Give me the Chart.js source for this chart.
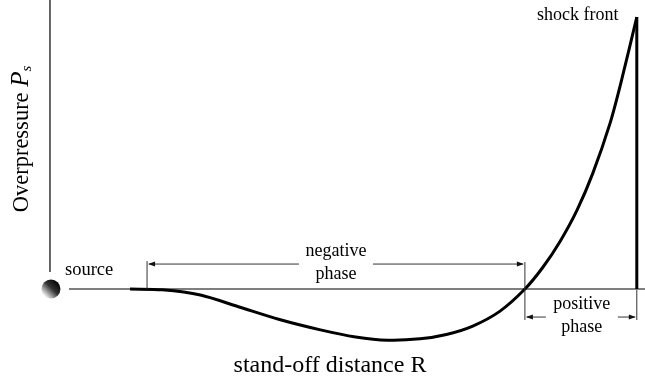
<!DOCTYPE html>
<html lang="en">
<head>
  <meta charset="UTF-8" />
  <title>Blast wave overpressure</title>
  <script src="https://cdn.jsdelivr.net/npm/chart.js"></script>
  <style>
    body {
      margin: 0;
      background: white;
    }
    #wrap {
      width: 645px;
      height: 381px;
    }
  </style>
</head>
<body>
  <div id="wrap"><canvas id="blastChart" width="645" height="381"></canvas></div>

  <script>
    // stand-off distance (source = 0, shock front = 10) and overpressure (peak = 1)
    const distance = [1.35, 1.9, 2.55, 3.2, 3.9, 4.6, 5.2, 5.75, 6.3, 6.75, 7.2, 7.66, 8.09, 8.4, 8.69, 8.98, 9.25, 9.54, 9.74, 10];
    const overpressure = [0, -0.003, -0.022, -0.065, -0.112, -0.15, -0.176, -0.188, -0.183, -0.167, -0.136, -0.082, 0, 0.081, 0.175, 0.29, 0.426, 0.607, 0.768, 1];
    const shockDistance = [10, 10];
    const shockPressure = [1, 0];
    const phaseEdges = [1.64, 8.09, 10];

    const toPoints = (xs, ys) => xs.map((x, i) => ({ x: x, y: ys[i] }));
    const serif = "'Liberation Serif', 'Times New Roman', serif";

    function arrowHead(ctx, x, y, dir) {
      ctx.beginPath();
      ctx.moveTo(x, y);
      ctx.lineTo(x - dir * 7, y - 2.5);
      ctx.lineTo(x - dir * 7, y + 2.5);
      ctx.closePath();
      ctx.fill();
    }

    function line(ctx, x1, y1, x2, y2) {
      ctx.beginPath();
      ctx.moveTo(x1, y1);
      ctx.lineTo(x2, y2);
      ctx.stroke();
    }

    const diagramPlugin = {
      id: "diagram",
      beforeDatasetsDraw(chart) {
        const ctx = chart.ctx;
        const xs = chart.scales.x;
        const ys = chart.scales.y;
        const y0 = ys.getPixelForValue(0);
        const xSrc = xs.getPixelForValue(0);
        ctx.save();
        // baseline
        ctx.strokeStyle = "#555";
        ctx.lineWidth = 1.5;
        line(ctx, xSrc + 18, y0, chart.width, y0);
        // vertical axis
        ctx.strokeStyle = "#000";
        ctx.lineWidth = 1.2;
        line(ctx, xSrc - 1, 0, xSrc - 1, y0 - 17);
        // source ball
        const g = ctx.createLinearGradient(xSrc - 7, y0 + 7, xSrc + 7, y0 - 7);
        g.addColorStop(0, "#ffffff");
        g.addColorStop(0.55, "#333333");
        g.addColorStop(1, "#000000");
        ctx.fillStyle = g;
        ctx.beginPath();
        ctx.arc(xSrc, y0, 9.5, 0, Math.PI * 2);
        ctx.fill();
        ctx.restore();
      },
      afterDraw(chart) {
        const ctx = chart.ctx;
        const xs = chart.scales.x;
        const ys = chart.scales.y;
        const px = v => xs.getPixelForValue(v);
        const py = v => ys.getPixelForValue(v);
        const xa = px(phaseEdges[0]);
        const xb = px(phaseEdges[1]);
        const xc = px(phaseEdges[2]);
        const y0 = py(0);

        ctx.save();
        ctx.strokeStyle = "#333";
        ctx.fillStyle = "#111";
        ctx.lineWidth = 1;

        // phase boundary ticks
        line(ctx, xa, y0 - 28, xa, y0);
        line(ctx, xb, y0 - 27, xb, y0 + 31);
        line(ctx, xc, y0 + 1, xc, y0 + 31);

        // negative phase arrow
        const yn = y0 - 25;
        const midN = (xa + xb) / 2;
        line(ctx, xa + 2, yn, midN - 37, yn);
        line(ctx, midN + 37, yn, xb - 2, yn);
        arrowHead(ctx, xa + 1, yn, -1);
        arrowHead(ctx, xb - 1, yn, 1);

        // positive phase arrow
        const yp = y0 + 28;
        const midP = (xb + xc) / 2;
        line(ctx, xb + 2, yp, midP - 35, yp);
        line(ctx, midP + 37, yp, xc - 2, yp);
        arrowHead(ctx, xb + 1, yp, -1);
        arrowHead(ctx, xc - 1, yp, 1);

        // texts
        ctx.fillStyle = "#000";
        ctx.textAlign = "center";
        ctx.textBaseline = "middle";
        ctx.font = "18px " + serif;
        ctx.fillText("negative", midN, yn - 13);
        ctx.fillText("phase", midN, yn + 10);
        ctx.fillText("positive", midP + 1, yp - 13);
        ctx.fillText("phase", midP + 1, yp + 10);

        ctx.textAlign = "left";
        ctx.font = "18.5px " + serif;
        ctx.fillText("source", px(0) + 14, y0 - 19);
        ctx.font = "18px " + serif;
        ctx.fillText("shock front", 537, 15);

        ctx.textAlign = "center";
        ctx.font = "24px " + serif;
        ctx.fillText("stand-off distance R", 330, 366);

        // y axis title with italic P_s
        ctx.save();
        ctx.translate(22, 139);
        ctx.rotate(-Math.PI / 2);
        ctx.textAlign = "left";
        const t1 = "Overpressure ";
        ctx.font = "22.5px " + serif;
        const w1 = ctx.measureText(t1).width;
        ctx.font = "italic 25px " + serif;
        const w2 = ctx.measureText("P").width;
        ctx.font = "italic 15px " + serif;
        const w3 = ctx.measureText("s").width;
        let x = -(w1 + w2 + w3) / 2;
        ctx.font = "22.5px " + serif;
        ctx.fillText(t1, x, 0);
        x += w1;
        ctx.font = "italic 25px " + serif;
        ctx.fillText("P", x, -1);
        x += w2;
        ctx.font = "italic 15px " + serif;
        ctx.fillText("s", x, 5);
        ctx.restore();

        ctx.restore();
      }
    };

    new Chart(document.getElementById("blastChart"), {
      type: "scatter",
      data: {
        datasets: [
          {
            data: toPoints(distance, overpressure),
            showLine: true,
            borderColor: "#000",
            borderWidth: 3,
            pointRadius: 0,
            tension: 0.3
          },
          {
            data: toPoints(shockDistance, shockPressure),
            showLine: true,
            borderColor: "#000",
            borderWidth: 3,
            pointRadius: 0
          }
        ]
      },
      options: {
        responsive: false,
        animation: false,
        layout: { padding: 0 },
        plugins: {
          legend: { display: false },
          tooltip: { enabled: false }
        },
        scales: {
          x: { type: "linear", display: false, min: -0.87, max: 10.14 },
          y: { type: "linear", display: false, min: -0.338, max: 1.0625 }
        }
      },
      plugins: [diagramPlugin]
    });
  </script>
</body>
</html>
